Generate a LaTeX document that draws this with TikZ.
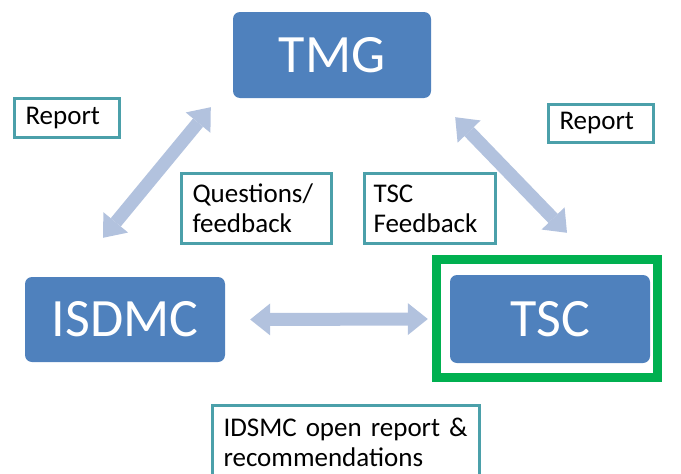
\documentclass[tikz,border=0pt]{standalone}
\usepackage{fontspec}
\setmainfont{Carlito}
\usepackage{tikz}
\usetikzlibrary{arrows.meta}
\usetikzlibrary{calc}
\definecolor{boxblue}{RGB}{79,129,189}
\definecolor{arrowblue}{RGB}{178,194,222}
\definecolor{noteteal}{RGB}{75,160,170}
\definecolor{framegreen}{RGB}{0,176,80}

\begin{document}
\begin{tikzpicture}[x=1pt,y=-1pt,
	body/.style={fill=boxblue, rounded corners=7pt, text=white, inner sep=0pt, font=\fontsize{54}{60}\selectfont},
	note/.style={draw=noteteal, line width=3pt, fill=white, inner xsep=11pt, inner ysep=0pt, align=left, font=\fontsize{27}{30}\selectfont},
	flow/.style={draw=arrowblue, line width=13pt, {Triangle[width=32pt,length=20pt,line width=0pt]}-{Triangle[width=32pt,length=20pt,line width=0pt]}}]
						\useasboundingbox (0,0) rectangle (681,474);
						% committees
						\node[body, minimum width=198pt, minimum height=86pt] (tmg) at (332,55) {TMG};
						\node[body, minimum width=200pt, minimum height=85pt] (isdmc) at (125,319.5) {ISDMC};
						\node[body, minimum width=200pt, minimum height=88pt] (tsc) at (550,319) {TSC};
						\draw[framegreen, line width=9pt] ($(tsc.north west)+(-13.5,-15.5)$) rectangle ($(tsc.south east)+(7.5,14.5)$);
						% arrows
						\draw[flow] ($(tmg.south west)+(-22,9)$) to ($(isdmc.north)+(-22,-39)$);
						\draw[flow] ($(tmg.south east)+(24,19)$) to ($(tsc.north)+(17,-42)$);
						\draw[flow] ($(isdmc.east)+(25,0)$) to ($(tsc.west)+(-22,0)$);
						% labels
						\node[note, text width=83pt, minimum height=39pt] (rep1) at (67,118) {Report};
						\node[note, text width=83pt, minimum height=38pt] (rep2) at (601,123.5) {Report};
						\node[note, text width=128pt, minimum height=70pt] (ques) at (256.5,208.5) {Questions/\\feedback};
						\node[note, inner xsep=9pt, text width=113pt, minimum height=70pt] (tscfb) at (430,208.5) {TSC\\Feedback};
						\node[note, text width=245pt, minimum height=74pt, anchor=north] (open) at (346,403.5) {IDSMC open report \&\\recommendations};
					\end{tikzpicture}
\end{document}
